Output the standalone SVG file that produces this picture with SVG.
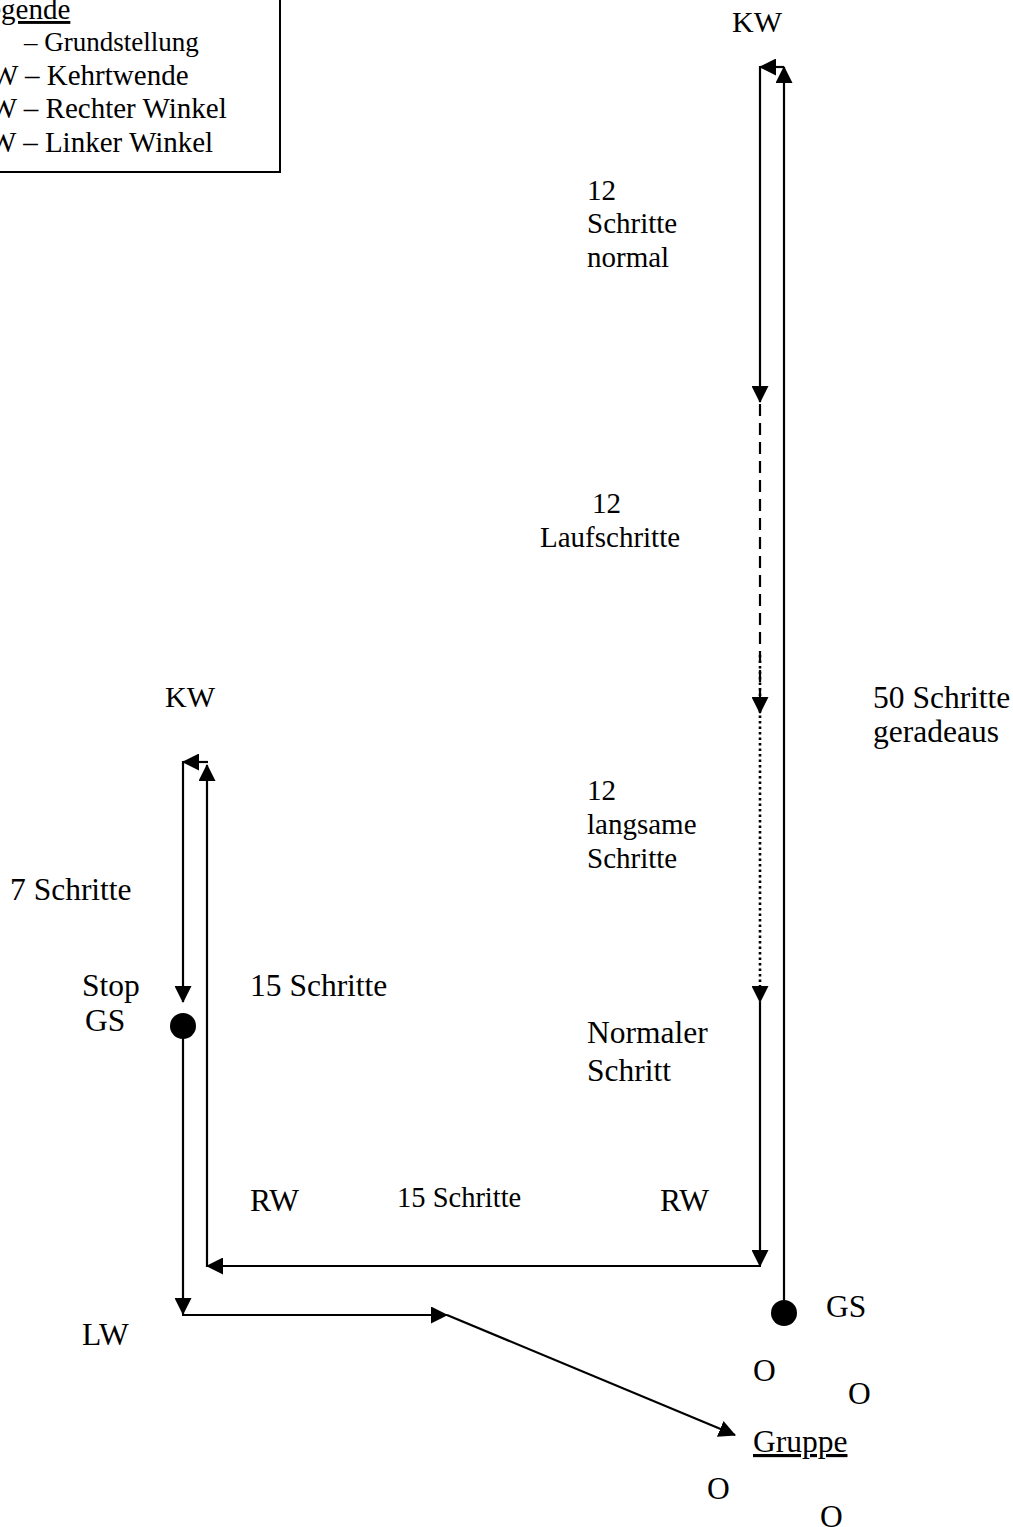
<svg xmlns="http://www.w3.org/2000/svg" width="1013" height="1527" viewBox="0 0 1013 1527">
<style>
text{font-family:"Liberation Serif","Times New Roman",serif;font-size:29px;fill:#000}
.b{font-size:31.5px}
.u{text-decoration:underline}
.ln{stroke:#000;stroke-width:2.2;fill:none}
.dash{stroke-dasharray:12 7}
.dot{stroke-dasharray:2.5 3;stroke-width:2.6}
</style>
<defs>
<marker id="ah" markerUnits="userSpaceOnUse" markerWidth="17" markerHeight="17" refX="16" refY="8.5" orient="auto" viewBox="0 0 17 17">
<path d="M0,0 L17,8.5 L0,17 z" fill="#000"/>
</marker>
</defs>
<g id="legend">
<rect x="-10" y="-10" width="290" height="182" fill="none" stroke="#000" stroke-width="2"/>
<text x="-29.5" y="19" class="u">Legende</text>
<text y="51" style="font-size:27px"><tspan x="-45">GS</tspan><tspan x="24">– Grundstellung</tspan></text>
<text x="-30" y="85">KW – Kehrtwende</text>
<text x="-28" y="118">RW – Rechter Winkel</text>
<text x="-26.5" y="152">LW – Linker Winkel</text>
</g>
<g id="connectors">
<line class="ln" x1="784" y1="1300" x2="784" y2="67" marker-end="url(#ah)"/>
<line class="ln" x1="784" y1="67" x2="760" y2="67" marker-end="url(#ah)"/>
<line class="ln" x1="760" y1="66" x2="760" y2="402" marker-end="url(#ah)"/>
<line class="ln dash" x1="760" y1="404" x2="760" y2="713" marker-end="url(#ah)"/>
<line class="ln dot" x1="760" y1="655" x2="760" y2="1002" marker-end="url(#ah)"/>
<line class="ln" x1="760" y1="1002" x2="760" y2="1266" marker-end="url(#ah)"/>
<line class="ln" x1="761" y1="1266" x2="207" y2="1266" marker-end="url(#ah)"/>
<line class="ln" x1="207" y1="1267" x2="207" y2="765" marker-end="url(#ah)"/>
<line class="ln" x1="208" y1="762" x2="183" y2="762" marker-end="url(#ah)"/>
<line class="ln" x1="183" y1="761" x2="183" y2="1002" marker-end="url(#ah)"/>
<line class="ln" x1="183" y1="1026" x2="183" y2="1314" marker-end="url(#ah)"/>
<line class="ln" x1="182" y1="1315" x2="447" y2="1315" marker-end="url(#ah)"/>
<line class="ln" x1="447" y1="1315" x2="735" y2="1435" marker-end="url(#ah)"/>
</g>
<g id="gs-right"><circle cx="784" cy="1313" r="13" fill="#000"/><text x="826" y="1317" class="b">GS</text></g>
<g id="gs-left"><circle cx="183" cy="1026" r="13" fill="#000"/><text x="82" y="996" class="b">Stop</text><text x="85" y="1031" class="b">GS</text></g>
<g id="kw-top"><text x="732" y="32" style="font-size:30px">KW</text></g>
<g id="kw-left"><text x="165" y="707" style="font-size:30px">KW</text></g>
<g id="l-normal"><text x="587" y="200">12</text><text x="587" y="233">Schritte</text><text x="587" y="267">normal</text></g>
<g id="l-lauf"><text x="592" y="513">12</text><text x="540" y="547">Laufschritte</text></g>
<g id="l-50"><text x="873" y="708" class="b">50 Schritte</text><text x="873" y="742" class="b">geradeaus</text></g>
<g id="l-langsam"><text x="587" y="800">12</text><text x="587" y="834">langsame</text><text x="587" y="868">Schritte</text></g>
<g id="l-7"><text x="10" y="900" class="b">7 Schritte</text></g>
<g id="l-15a"><text x="250" y="996" class="b">15 Schritte</text></g>
<g id="l-normaler"><text x="587" y="1043" class="b">Normaler</text><text x="587" y="1081" class="b">Schritt</text></g>
<g id="rw-left"><text x="250" y="1211" class="b">RW</text></g>
<g id="l-15b"><text x="397" y="1207" style="font-size:28.5px">15 Schritte</text></g>
<g id="rw-right"><text x="660" y="1211" class="b">RW</text></g>
<g id="lw"><text x="82" y="1345" class="b">LW</text></g>
<g id="gruppe">
<text x="753" y="1381" class="b">O</text><text x="848" y="1404" class="b">O</text>
<text x="753" y="1452" class="b u">Gruppe</text>
<text x="707" y="1499" class="b">O</text><text x="820" y="1527" class="b">O</text>
</g>
</svg>
